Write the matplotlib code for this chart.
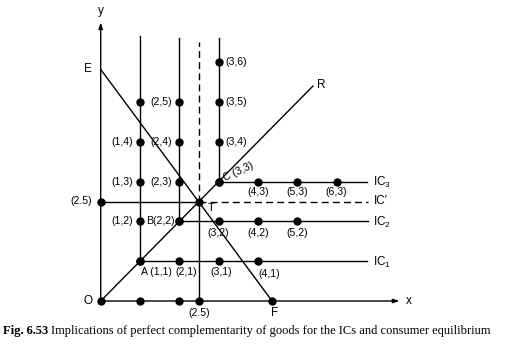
import matplotlib
matplotlib.use("Agg")
import matplotlib.pyplot as plt

plt.rcParams['font.family'] = ['Liberation Sans', 'DejaVu Sans']
plt.rcParams['mathtext.fontset'] = 'custom'
plt.rcParams['mathtext.rm'] = 'Liberation Sans'
plt.rcParams['mathtext.it'] = 'Liberation Sans'

# corner points of the L-shaped indifference curves
ic_names = ['IC$_1$', 'IC$_2$', 'IC$_3$']
ic_corner = [1, 2, 3]

# dots along the vertical arms (x, list of y) and horizontal arms (y, list of x)
col_x = [1, 2, 3]
col_y = [[1, 2, 3, 4, 5], [2, 3, 4, 5], [3, 4, 5, 6]]
row_y = [1, 2, 3]
row_x = [[1, 2, 3, 4], [2, 3, 4, 5], [3, 4, 5, 6]]

# equilibrium T and budget line E-F
t_point = 2.5
e_intercept = 5.82
f_intercept = 4.36
axis_dots_x = [0, 1, 2, 2.5]

# labelled points: text, x, y
labels = [
    ('(1,2)', 1, 2), ('(1,3)', 1, 3), ('(1,4)', 1, 4),
    ('(2,3)', 2, 3), ('(2,4)', 2, 4), ('(2,5)', 2, 5), ('B(2,2)', 2, 2),
    ('(3,4)', 3, 4), ('(3,5)', 3, 5), ('(3,6)', 3, 6),
    ('(2,1)', 2, 1), ('(3,1)', 3, 1), ('(4,1)', 4, 1),
    ('(3,2)', 3, 2), ('(4,2)', 4, 2), ('(5,2)', 5, 2),
    ('(4,3)', 4, 3), ('(5,3)', 5, 3), ('(6,3)', 6, 3),
]
offsets = [
    (-5, 0, 'right'), (-5, 0, 'right'), (-5, 0, 'right'),
    (-5, 0, 'right'), (-5, 0, 'right'), (-5, 0, 'right'), (-3.5, 0, 'right'),
    (5, 0, 'left'), (5, 0, 'left'), (5, 0, 'left'),
    (5, -8, 'center'), (2, -8, 'center'), (8, -9, 'center'),
    (0, -8.5, 'center'), (0, -8, 'center'), (0, -8, 'center'),
    (0, -7.5, 'center'), (0, -7.5, 'center'), (0, -7.5, 'center'),
]

fig = plt.figure(figsize=(5.05, 3.52), dpi=100)
ax = fig.add_axes([0, 0, 1, 1])
ax.set_xlim(-100.7 / 39.3, (505 - 100.7) / 39.3)
ax.set_ylim(-(352 - 301) / 39.8, 301 / 39.8)
ax.axis('off')

lw = 1.0
k = 'black'
ms = 5
fs = 7.6

# axes with arrows
ax.annotate('', xy=(0, 7.0), xytext=(0, 0),
            arrowprops=dict(arrowstyle='-|>,head_length=0.35,head_width=0.12', color=k, lw=lw, shrinkA=0, shrinkB=0))
ax.annotate('', xy=(7.6, 0), xytext=(0, 0),
            arrowprops=dict(arrowstyle='-|>,head_length=0.35,head_width=0.12', color=k, lw=lw, shrinkA=0, shrinkB=0))

# L-shaped ICs
col_top = [6.65, 6.62, 6.6]
row_end = [6.77, 6.8, 6.77]
for c, top, end, name in zip(ic_corner, col_top, row_end, ic_names):
    ax.plot([c, c], [c, top], color=k, lw=lw)
    ax.plot([c, end], [c, c], color=k, lw=lw)
    ax.text(6.94, c - 0.03, name, fontsize=8.5, ha='left', va='center')

# IC' through T
ax.plot([0, t_point], [t_point, t_point], color=k, lw=lw)
ax.plot([t_point, 6.8], [t_point, t_point], color=k, lw=lw, dashes=(5, 3))
ax.plot([t_point, t_point], [0, t_point], color=k, lw=lw)
ax.plot([t_point, t_point], [t_point, 6.5], color=k, lw=lw, dashes=(5, 3))
ax.text(6.94, t_point, "IC\u2032", fontsize=8.5, ha='left', va='center')

# ray OR and budget line EF
ax.plot([0, 5.4], [0, 5.4], color=k, lw=lw)
ax.plot([0, f_intercept], [e_intercept, 0], color=k, lw=lw)

# dots
for x, ys in zip(col_x, col_y):
    ax.plot([x] * len(ys), ys, 'o', color=k, ms=ms)
for y, xs in zip(row_y, row_x):
    ax.plot(xs, [y] * len(xs), 'o', color=k, ms=ms)
ax.plot(axis_dots_x, [0] * len(axis_dots_x), 'o', color=k, ms=ms)
ax.plot([0, t_point, f_intercept], [t_point, t_point, 0], 'o', color=k, ms=ms)

# point labels
for (txt, x, y), (dx, dy, ha) in zip(labels, offsets):
    ax.annotate(txt, (x, y), xytext=(dx, dy), textcoords='offset points',
                fontsize=fs, ha=ha, va='center')

ax.annotate('A (1,1)', (1, 1), xytext=(1, -8), textcoords='offset points',
            fontsize=fs, ha='left', va='center')
ax.annotate('C (3,3)', (3, 3), xytext=(4, 2), textcoords='offset points',
            fontsize=fs, ha='left', va='center', rotation=25, rotation_mode='anchor')
ax.annotate('T', (t_point, t_point), xytext=(9, -4.5), textcoords='offset points',
            fontsize=8, ha='center', va='center')
ax.annotate('(2.5)', (0, t_point), xytext=(-6, 0), textcoords='offset points',
            fontsize=fs, ha='right', va='center')
ax.annotate('(2.5)', (t_point, 0), xytext=(0, -9), textcoords='offset points',
            fontsize=fs, ha='center', va='center')
ax.annotate('O', (0, 0), xytext=(-9, 0), textcoords='offset points',
            fontsize=8.5, ha='center', va='center')
ax.annotate('F', (f_intercept, 0), xytext=(1.5, -9), textcoords='offset points',
            fontsize=8.5, ha='center', va='center')
ax.annotate('E', (0, e_intercept), xytext=(-9, 0.5), textcoords='offset points',
            fontsize=8.5, ha='center', va='center')
ax.annotate('R', (5.4, 5.4), xytext=(6, 1), textcoords='offset points',
            fontsize=8.5, ha='center', va='center')
ax.annotate('y', (0, 7.0), xytext=(0, 8.5), textcoords='offset points',
            fontsize=8.5, ha='center', va='center')
ax.annotate('x', (7.6, 0), xytext=(6.5, 0), textcoords='offset points',
            fontsize=8.5, ha='center', va='center')

# caption: bold figure number followed by the plain title
cap_fs = 9.0
t1 = fig.text(0.006, 0.06, 'Fig. 6.53', fontsize=cap_fs, fontweight='bold',
              family='Liberation Serif', ha='left', va='center')
fig.canvas.draw()
bb = t1.get_window_extent()
fig.text((bb.x1 + 3) / fig.bbox.width, 0.06,
         'Implications of perfect complementarity of goods for the ICs and consumer equilibrium',
         fontsize=cap_fs, family='Liberation Serif', ha='left', va='center')

fig.savefig('out.png', dpi=100)
